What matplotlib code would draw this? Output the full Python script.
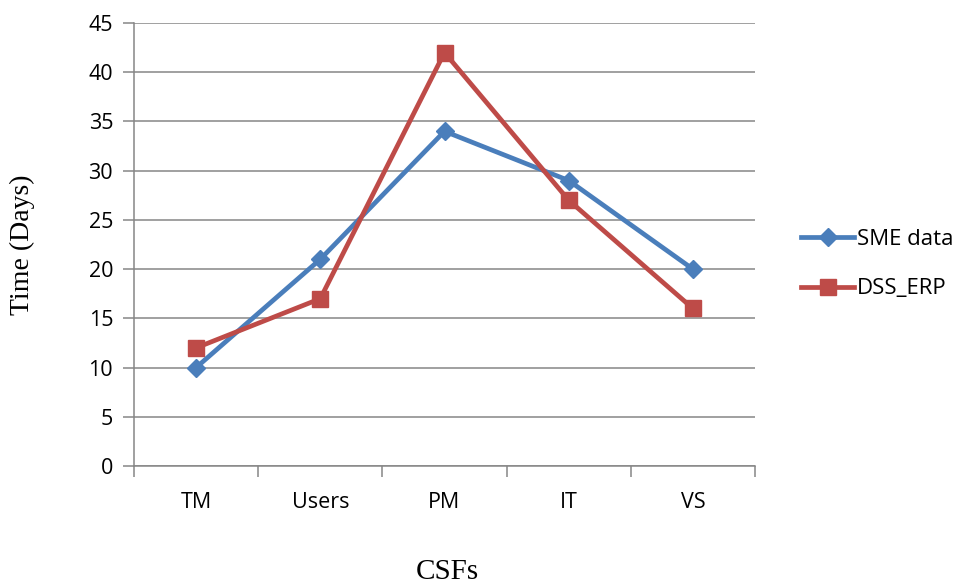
import matplotlib.pyplot as plt
import numpy as np

# Data
categories = ['TM', 'Users', 'PM', 'IT', 'VS']
sme_data = [10, 21, 34, 29, 20]
dss_erp = [12, 17, 42, 27, 16]
y_ticks = [0, 5, 10, 15, 20, 25, 30, 35, 40, 45]

blue = '#4A7EBB'
red = '#BE4B48'
grey = '#868686'

fig = plt.figure(figsize=(9.59, 5.87), dpi=100)
ax = fig.add_axes([134/959, 1-466/587, 621/959, 443/587])

x = np.arange(len(categories))
ax.plot(x, sme_data, color=blue, lw=3.4, marker='D', markersize=9,
        markerfacecolor=blue, markeredgecolor=blue, label='SME data', zorder=3)
ax.plot(x, dss_erp, color=red, lw=3.4, marker='s', markersize=11,
        markerfacecolor=red, markeredgecolor=red, label='DSS_ERP', zorder=3)

ax.set_xlim(-0.5, len(categories) - 0.5)
ax.set_ylim(0, 45)
ax.set_yticks(y_ticks)
ax.yaxis.grid(True, color=grey, lw=1.1)
ax.set_axisbelow(True)

# category labels between tick marks
ax.set_xticks(np.arange(-0.5, len(categories)))
ax.set_xticklabels([])
ax.set_xticks(x, minor=True)
ax.set_xticklabels(categories, minor=True)
ax.tick_params(axis='x', which='major', length=8, width=1.1, color=grey, direction='out')
ax.tick_params(axis='x', which='minor', length=0, pad=19)
ax.tick_params(axis='y', length=8, width=1.1, color=grey, direction='out', pad=7)

font = 'Open Sans'
for lab in ax.get_xticklabels(minor=True) + ax.get_yticklabels():
    lab.set_fontfamily(font)
    lab.set_fontsize(15.5)

for s in ['top', 'right']:
    ax.spines[s].set_visible(False)
for s in ['left', 'bottom']:
    ax.spines[s].set_color(grey)
    ax.spines[s].set_linewidth(1.1)

fig.text(447/959, 1-572/587, 'CSFs', family='Liberation Serif', fontsize=21,
         ha='center', va='center')
fig.text(22/959, 1-245/587, 'Time (Days)', family='Liberation Serif', fontsize=20,
         ha='center', va='center', rotation=90)

fig.legend(loc='center left', bbox_to_anchor=(781/959, 1-264/587), frameon=False,
           prop={'family': font, 'size': 16}, handlelength=2.4, labelspacing=1.3,
           handletextpad=0.1)

fig.savefig('out.png', dpi=100)
